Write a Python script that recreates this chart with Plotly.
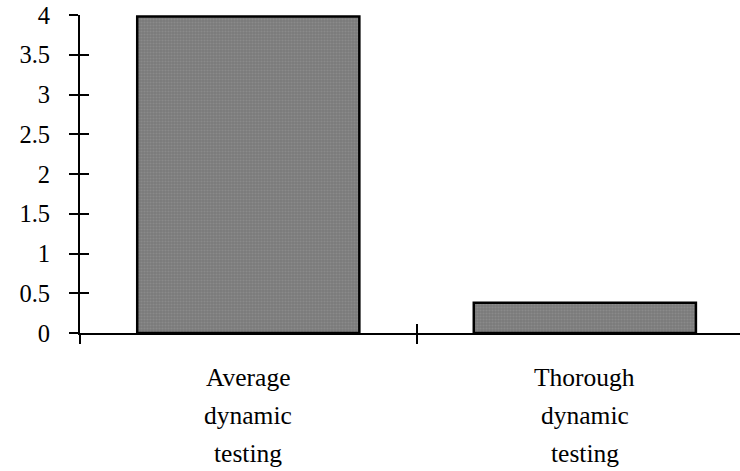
import plotly.graph_objects as go

categories = ["Average dynamic testing", "Thorough dynamic testing"]
values = [3.98, 0.38]
y_ticks = [0, 0.5, 1, 1.5, 2, 2.5, 3, 3.5, 4]
y_tick_labels = ["0", "0.5", "1", "1.5", "2", "2.5", "3", "3.5", "4"]

FONT = "Times New Roman, Liberation Serif, serif"
xpos = list(range(len(categories)))

fig = go.Figure()
fig.add_trace(go.Bar(
    x=xpos, y=values, width=0.66,
    marker=dict(color="#828282", line=dict(color="black", width=2.5),
                pattern=dict(shape=".", fgcolor="#9a9a9a", bgcolor="#7a7a7a", size=3, solidity=0.4)),
    showlegend=False, hoverinfo="skip",
))
# invisible trace for overlay axes (inside ticks to make crossing ticks)
fig.add_trace(go.Scatter(x=[0], y=[0], xaxis="x2", yaxis="y2", mode="markers",
                         marker=dict(opacity=0), showlegend=False, hoverinfo="skip"))

xr = [-0.5, 1.461]
yr = [0, 4]
boundaries = [-0.5, 0.5, 1.5]

fig.update_layout(
    width=740, height=471,
    margin=dict(l=80, r=0, t=15, b=138),
    plot_bgcolor="white", paper_bgcolor="white",
    font=dict(family=FONT, size=24, color="black"),
    xaxis=dict(range=xr, showline=True, linecolor="black", linewidth=2, automargin=False,
               tickvals=boundaries, ticktext=["", "", ""], ticks="outside",
               ticklen=9, tickwidth=2, tickcolor="black", showgrid=False, zeroline=False),
    yaxis=dict(range=yr, showline=True, linecolor="black", linewidth=2, automargin=False,
               tickvals=y_ticks, ticktext=y_tick_labels, ticks="outside",
               ticklen=9, tickwidth=2, tickcolor="black", showgrid=False, zeroline=False,
               ticklabelstandoff=14, tickfont=dict(size=24.5)),
    xaxis2=dict(range=xr, overlaying="x", anchor="y2", side="bottom", tickvals=boundaries,
                ticktext=["", "", ""], ticks="inside", ticklen=9, tickwidth=2, automargin=False,
                tickcolor="black", showline=False, showgrid=False, zeroline=False),
    yaxis2=dict(range=yr, overlaying="y", anchor="x2", side="left", tickvals=y_ticks,
                showticklabels=False, ticks="inside", ticklen=9, tickwidth=2, automargin=False,
                tickcolor="black", showline=False, showgrid=False, zeroline=False),
)

for i, cat in enumerate(categories):
    words = cat.split(" ")
    lines = [words[0], words[1], " ".join(words[2:])]
    for j, line in enumerate(lines):
        fig.add_annotation(x=i, y=0, xref="x", yref="paper", text=line, showarrow=False,
                           xanchor="center", yanchor="middle", yshift=-44 - 38 * j,
                           font=dict(family=FONT, size=25.5, color="black"))

fig.write_html("out.html", config={"displayModeBar": False},
               post_script="document.body.style.margin='0';document.body.style.overflow='hidden';")
